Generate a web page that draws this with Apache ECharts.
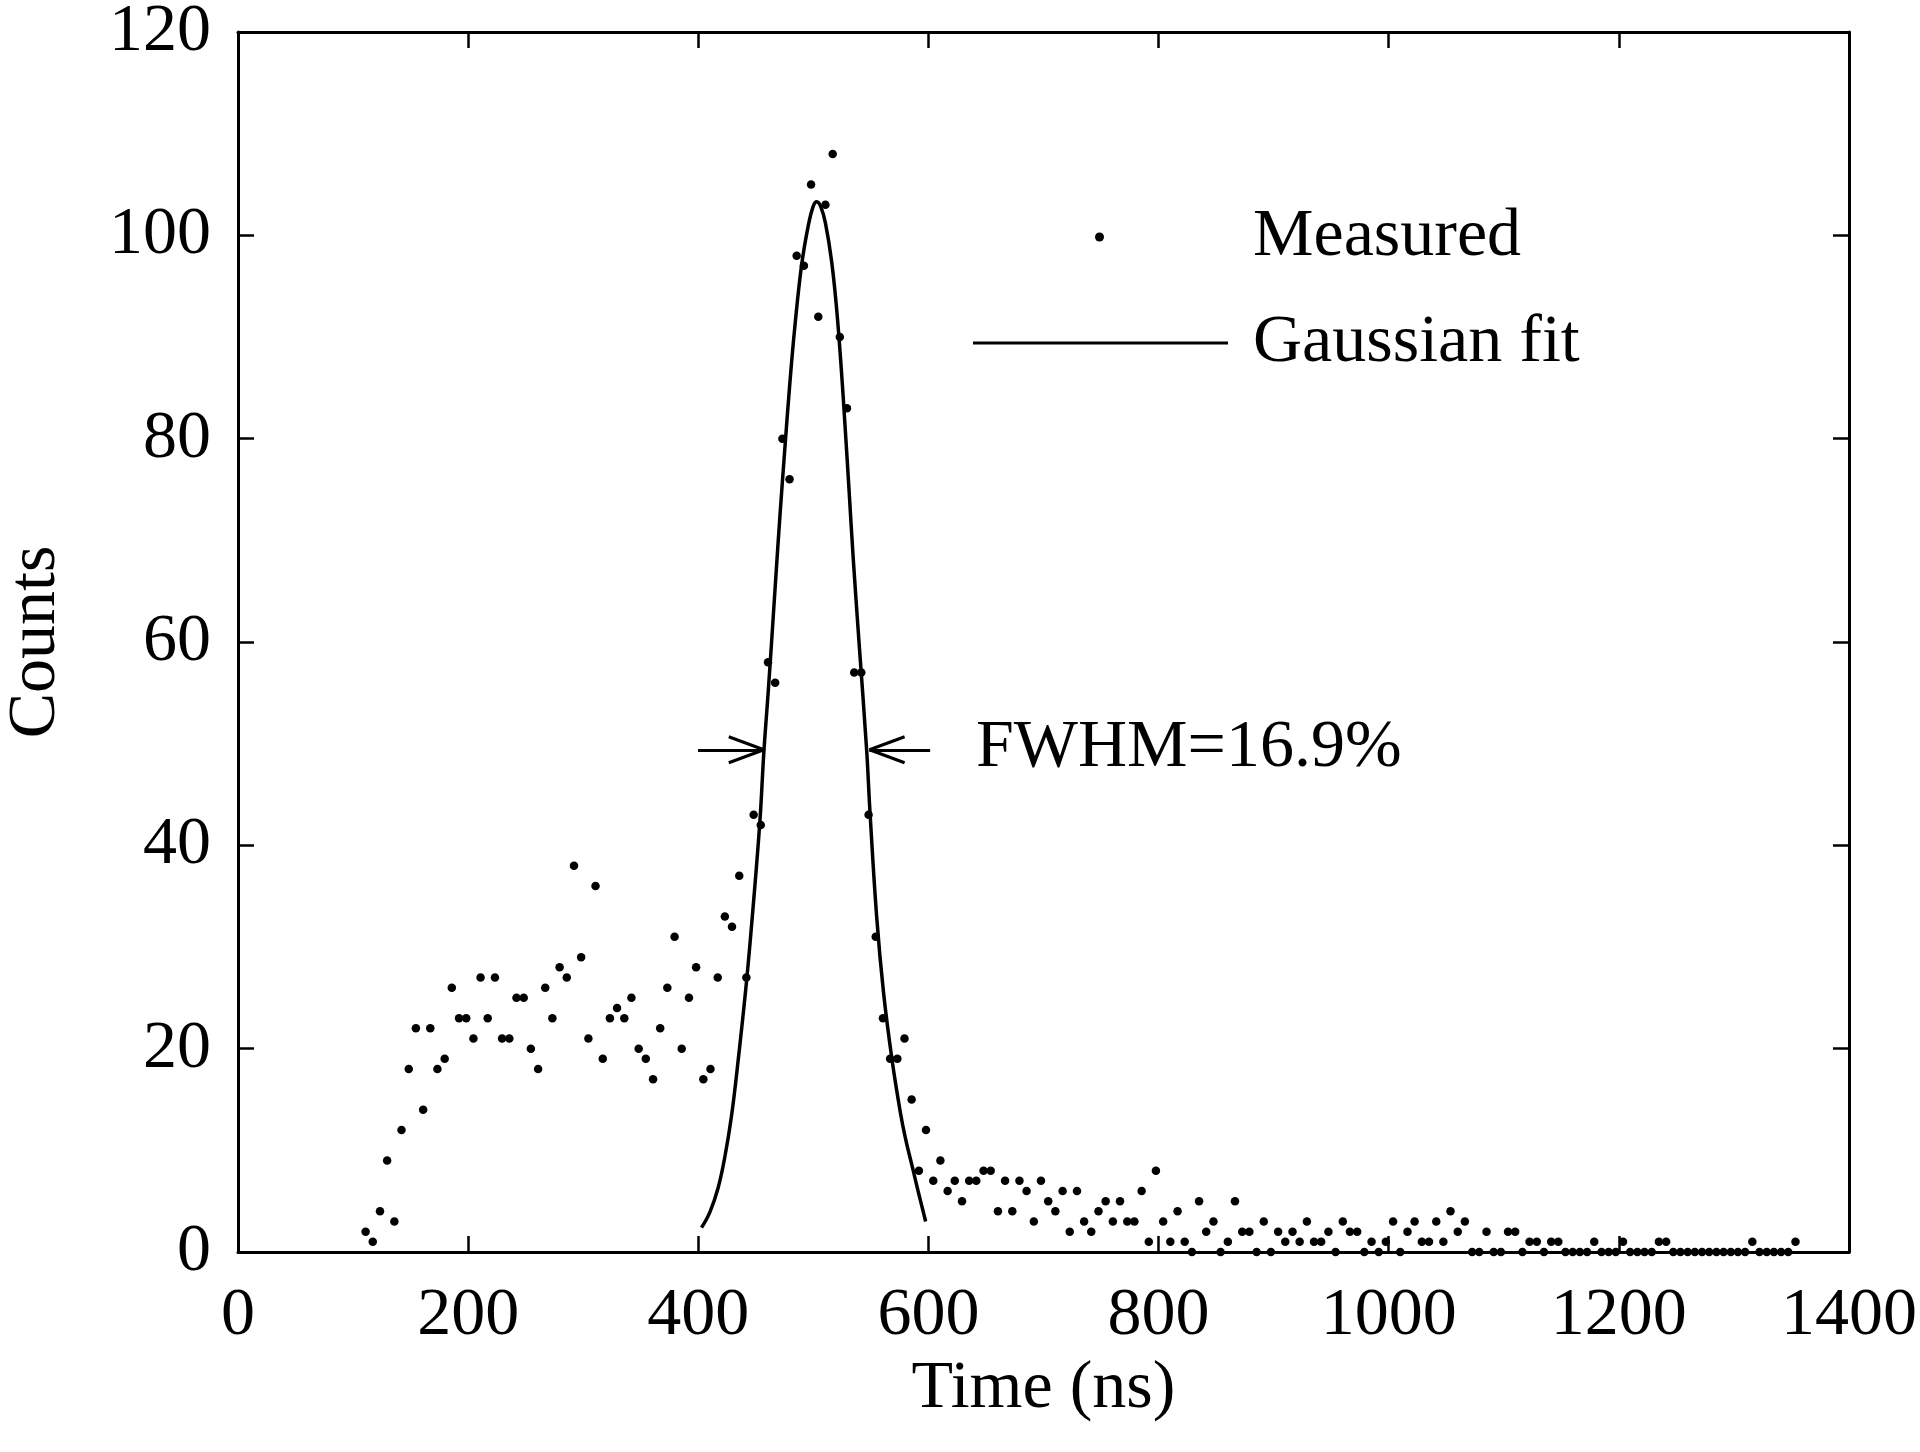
<!DOCTYPE html>
<html><head><meta charset="utf-8">
<script src="https://cdn.jsdelivr.net/npm/echarts@6/dist/echarts.min.js"></script>
<style>html,body{margin:0;padding:0;background:#fff}#c{width:1920px;height:1452px}</style>
</head><body><div id="c"></div>
<script>
// ---- data ----
const timeNs = [110.9,117.1,123.4,129.6,135.9,142.1,148.4,154.6,160.9,167.1,
173.3,179.6,185.8,192.1,198.3,204.6,210.8,217.0,223.3,229.5,
235.8,242.0,248.3,254.5,260.8,267.0,273.2,279.5,285.7,292.0,
298.2,304.5,310.7,317.0,323.2,329.4,335.7,341.9,348.2,354.4,
360.7,366.9,373.1,379.4,385.6,391.9,398.1,404.4,410.6,416.9,
423.1,429.3,435.6,441.8,448.1,454.3,460.6,466.8,473.1,479.3,
485.5,491.8,498.0,504.3,510.5,516.8,523.0,529.2,535.5,541.7,
548.0,554.2,560.5,566.7,573.0,579.2,585.4,591.7,597.9,604.2,
610.4,616.7,622.9,629.2,635.4,641.6,647.9,654.1,660.4,666.6,
672.9,679.1,685.3,691.6,697.8,704.1,710.3,716.6,722.8,729.1,
735.3,741.5,747.8,754.0,760.3,766.5,772.8,779.0,785.3,791.5,
797.7,804.0,810.2,816.5,822.7,829.0,835.2,841.4,847.7,853.9,
860.2,866.4,872.7,878.9,885.2,891.4,897.6,903.9,910.1,916.4,
922.6,928.9,935.1,941.3,947.6,953.8,960.1,966.3,972.6,978.8,
985.1,991.3,997.5,1003.8,1010.0,1016.3,1022.5,1028.8,1035.0,1041.3,
1047.5,1053.7,1060.0,1066.2,1072.5,1078.7,1085.0,1091.2,1097.5,1103.7,
1109.9,1116.2,1122.4,1128.7,1134.9,1141.2,1147.4,1153.6,1159.9,1166.1,
1172.4,1178.6,1184.9,1191.1,1197.3,1203.6,1209.8,1216.1,1222.3,1228.6,
1234.8,1241.1,1247.3,1253.5,1259.8,1266.0,1272.3,1278.5,1284.8,1291.0,
1297.3,1303.5,1309.7,1316.0,1322.2,1328.5,1334.7,1341.0,1347.2,1353.5];

const counts = [2,1,4,9,3,12,18,22,14,22,
18,19,26,23,23,21,27,23,27,21,
21,25,25,20,18,26,23,28,27,38,
29,21,36,19,23,24,23,25,20,19,
17,22,26,31,20,25,28,17,18,27,
33,32,37,27,43,42,58,56,80,76,
98,97,105,92,103,108,90,83,57,57,
43,31,23,19,19,21,15,8,12,7,
9,6,7,5,7,7,8,8,4,7,
4,7,6,3,7,5,4,6,2,6,
3,2,4,5,3,5,3,3,6,1,
8,3,1,4,1,0,5,2,3,0,
1,5,2,2,0,3,0,2,1,2,
1,3,1,1,2,0,3,2,2,0,
1,0,1,3,0,2,3,1,1,3,
1,4,2,3,0,0,2,0,0,2,
2,0,1,1,0,1,1,0,0,0,
0,1,0,0,0,1,0,0,0,0,
1,1,0,0,0,0,0,0,0,0,
0,0,0,1,0,0,0,0,0,1];

const fitTimeNs = [402.8,410.0,417.2,423.0,428.9,434.6,441.9,447.7,453.5,457.0,460.7,463.7,467.4,470.9,475.2,479.6,483.9,489.7,495.5,500.0,503.0,
506.5,510.5,515.8,520.2,524.5,527.4,531.1,534.6,539.8,546.3,549.1,555.0,561.0,568.5,575.5,580.0,586.8,591.0,597.6];
const fitCounts = [2.4,3.9,6.3,9.3,13.4,18.8,26.6,34.0,42.3,49.2,55.0,60.0,66.4,72.3,79.0,85.5,91.0,97.0,100.9,102.9,103.3,
102.8,101.2,97.5,92.8,86.5,81.5,74.8,68.3,59.8,49.4,43.5,33.0,25.5,18.8,13.8,11.2,8.0,6.0,3.0];

const seriesNames = ['Measured', 'Gaussian fit'];
const xAxisLabel = 'Time (ns)';
const yAxisLabel = 'Counts';
const fwhmText = 'FWHM=16.9%';
// FWHM arrows (data coordinates)
const fwhmLevel = 49.4;
const leftArrow = {tail: 399.8, tip: 457.0};
const rightArrow = {tail: 601.5, tip: 548.8};
const headLen = 30.5, headSpread = 1.28;

const FONT = 'Liberation Serif';
const measuredData = timeNs.map((t, i) => [t, counts[i]]);
const fitData = fitTimeNs.map((t, i) => [t, fitCounts[i]]);

function arrowSegs(a, dir) {
  const back = a.tip + dir * headLen;
  return [
    [{coord: [a.tail, fwhmLevel]}, {coord: [a.tip, fwhmLevel]}],
    [{coord: [a.tip, fwhmLevel]}, {coord: [back, fwhmLevel + headSpread]}],
    [{coord: [a.tip, fwhmLevel]}, {coord: [back, fwhmLevel - headSpread]}]
  ];
}

const chart = echarts.init(document.getElementById('c'), null, {renderer: 'canvas'});
const axisCommon = {
  min: 0,
  axisLine: {show: true, onZero: false, lineStyle: {color: '#000', width: 3}},
  axisTick: {show: true, inside: true, length: 16, lineStyle: {color: '#000', width: 2.5}},
  splitLine: {show: false}
};
const plain = v => String(v);
chart.setOption({
  animation: false,
  backgroundColor: '#fff',
  grid: {left: 238, right: 71, top: 32, bottom: 200, containLabel: false, outerBoundsMode: 'none'},
  xAxis: [
    Object.assign({}, axisCommon, {
      type: 'value', max: 1400, interval: 200, position: 'bottom',
      name: xAxisLabel, nameLocation: 'middle', nameGap: 100,
      nameTextStyle: {fontFamily: FONT, fontSize: 68, color: '#000'},
      axisLabel: {fontFamily: FONT, fontSize: 68, color: '#000', margin: 30, formatter: plain}
    }),
    Object.assign({}, axisCommon, {
      type: 'value', max: 1400, interval: 200, position: 'top',
      axisLabel: {show: false}
    })
  ],
  yAxis: [
    Object.assign({}, axisCommon, {
      type: 'value', max: 120, interval: 20, position: 'left',
      name: yAxisLabel, nameLocation: 'middle', nameGap: 168, nameRotate: 90,
      nameTextStyle: {fontFamily: FONT, fontSize: 68, color: '#000'},
      axisLabel: {fontFamily: FONT, fontSize: 68, color: '#000', margin: 27, formatter: plain}
    }),
    Object.assign({}, axisCommon, {
      type: 'value', max: 120, interval: 20, position: 'right',
      axisLabel: {show: false}
    })
  ],
  legend: [
    {
      data: [{name: seriesNames[0], icon: 'circle'}],
      left: 1095, top: 203, itemWidth: 9, itemHeight: 9, padding: 0,
      selectedMode: false,
      itemStyle: {opacity: 1},
      textStyle: {fontFamily: FONT, fontSize: 68, color: '#000', padding: [0, 0, 0, 144]}
    },
    {
      data: [{name: seriesNames[1], icon: 'rect'}],
      left: 973, top: 309, itemWidth: 255, itemHeight: 3, padding: 0,
      selectedMode: false,
      itemStyle: {color: '#000'},
      textStyle: {fontFamily: FONT, fontSize: 68, color: '#000', padding: [0, 0, 0, 20]}
    }
  ],
  graphic: [{
    type: 'text', x: 976, y: 748,
    style: {text: fwhmText, font: '68px "Liberation Serif"', fill: '#000', verticalAlign: 'middle', align: 'left'}
  }],
  series: [
    {
      name: seriesNames[0], type: 'scatter', data: measuredData,
      symbol: 'circle', symbolSize: 8.5,
      itemStyle: {color: '#000', opacity: 1}, z: 3
    },
    {
      name: seriesNames[1], type: 'line', data: fitData,
      showSymbol: false, symbol: 'none', smooth: 0.4,
      lineStyle: {color: '#000', width: 3.5}, itemStyle: {color: '#000'}, z: 2,
      markLine: {
        silent: true, symbol: ['none', 'none'], animation: false,
        lineStyle: {color: '#000', width: 3, type: 'solid'},
        label: {show: false}, emphasis: {disabled: true},
        data: arrowSegs(leftArrow, -1).concat(arrowSegs(rightArrow, 1))
      }
    }
  ]
});
</script></body></html>
